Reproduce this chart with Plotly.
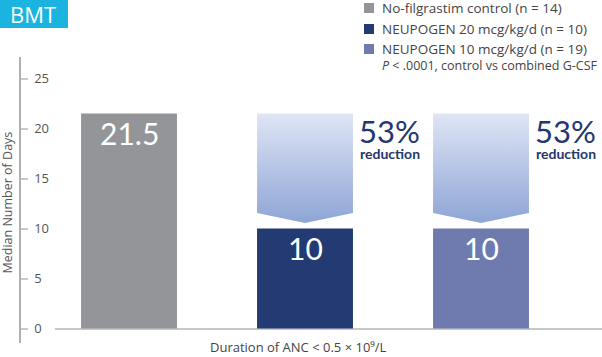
import plotly.graph_objects as go

# ---- data ----
categories = ["No-filgrastim control", "NEUPOGEN 20 mcg/kg/d", "NEUPOGEN 10 mcg/kg/d"]
n_values = [14, 10, 19]
median_days = [21.5, 10, 10]
bar_labels = ["21.5", "10", "10"]
bar_colors = ["#939598", "#233a72", "#6f7aaf"]
y_ticks = [0, 5, 10, 15, 20, 25]
legend_labels = [f"{c} (n = {n})" for c, n in zip(categories, n_values)]
p_note = "<i>P</i> < .0001, control vs combined G-CSF"
x_title = "Duration of ANC < 0.5 × 10⁹/L"
y_title = "Median Number of Days"
panel_title = "BMT"

FONT = "Lato"
SFONT = "Open Sans"
NAVY = "#23366f"
W, H = 602, 357
T, B = 57, 14
PH = H - T - B
BAR_W = 0.545

xs = list(range(len(categories)))

fig = go.Figure()

fig.add_trace(go.Bar(
    x=xs, y=median_days, width=BAR_W, marker=dict(color=bar_colors, line=dict(width=0)),
    hoverinfo="skip", showlegend=False,
))

control = median_days[0]
for i in range(1, len(categories)):
    v = median_days[i]
    c = xs[i]
    top, shoulder, tip = control, v + 1.55, v + 0.55
    fig.add_trace(go.Scatter(
        x=[c - BAR_W / 2, c + BAR_W / 2, c + BAR_W / 2, c, c - BAR_W / 2, c - BAR_W / 2],
        y=[top, top, shoulder, tip, shoulder, top],
        mode="lines", line=dict(width=0), fill="toself",
        fillgradient=dict(type="vertical", colorscale=[[0, "#8ea5d6"], [1, "#dfe5f5"]]),
        hoverinfo="skip", showlegend=False,
    ))
    pct = round((control - v) / control * 100 - 0.01)
    fig.add_annotation(x=c + BAR_W / 2, y=top, xshift=4, yshift=4, xanchor="left", yanchor="top",
                       text=f"{int(pct)}%", showarrow=False,
                       font=dict(family=FONT, size=31, color=NAVY))
    fig.add_annotation(x=c + BAR_W / 2, y=top, xshift=5, yshift=-29, xanchor="left", yanchor="top",
                       text="<b>reduction</b>", showarrow=False,
                       font=dict(family=FONT, size=14, color=NAVY))

for i, lab in enumerate(bar_labels):
    fig.add_annotation(x=xs[i], y=median_days[i], yanchor="top", yshift=1, text=lab,
                       showarrow=False, font=dict(family=FONT, size=30, color="white"))

# legend (drawn manually)
rows_y = [8, 29, 49]
for i, lab in enumerate(legend_labels):
    py = rows_y[i]
    fig.add_shape(type="rect", xref="paper", yref="paper",
                  x0=364 / W, x1=374 / W, y0=(H - B - (py - 5)) / PH, y1=(H - B - (py + 5)) / PH,
                  fillcolor=bar_colors[i], line=dict(width=0))
    fig.add_annotation(xref="paper", yref="paper", x=380 / W, y=(H - B - py) / PH,
                       xanchor="left", yanchor="middle", text=lab, showarrow=False,
                       font=dict(family=SFONT, size=13.5, color="#444"))
fig.add_annotation(xref="paper", yref="paper", x=380 / W, y=(H - B - 65) / PH,
                   xanchor="left", yanchor="middle", text=p_note, showarrow=False,
                   font=dict(family=SFONT, size=12.5, color="#444"))

# BMT badge
fig.add_shape(type="rect", xref="paper", yref="paper", x0=0, x1=68 / W,
              y0=(H - B - 28) / PH, y1=(H - B) / PH, fillcolor="#1bb4e0", line=dict(width=0))
fig.add_annotation(xref="paper", yref="paper", x=33 / W, y=(H - B - 14) / PH,
                   xanchor="center", yanchor="middle", text=panel_title, showarrow=False,
                   font=dict(family=SFONT, size=22, color="white"))

# axis titles
fig.add_annotation(xref="paper", yref="paper", x=7.5 / W, y=(H - B - 203) / PH,
                   xanchor="center", yanchor="middle", textangle=-90, text=y_title,
                   showarrow=False, font=dict(family=SFONT, size=12.5, color="#555"))
fig.add_annotation(xref="paper", yref="paper", x=298 / W, y=(H - B - 347) / PH,
                   xanchor="center", yanchor="middle", text=x_title,
                   showarrow=False, font=dict(family=SFONT, size=13, color="#444"))

r0 = -0.4205
fig.update_layout(
    width=W, height=H, margin=dict(l=0, r=0, t=T, b=B),
    paper_bgcolor="white", plot_bgcolor="white",
    xaxis=dict(domain=[55 / W, 1], range=[r0, r0 + 547 / 176], showticklabels=False,
               showgrid=False, zeroline=False, showline=False, ticks=""),
    yaxis=dict(anchor="free", position=20 / W, range=[-1.45, 27.15],
               tickvals=y_ticks, ticks="inside", ticklen=7, tickcolor="#c8c8c8", tickwidth=1.5,
               ticklabelposition="inside", ticklabelstandoff=6,
               tickfont=dict(family=SFONT, size=13, color="#555"),
               showline=True, linecolor="#b0b0b0", linewidth=1.5, showgrid=False,
               zeroline=True, zerolinecolor="#c8c8c8", zerolinewidth=2),
    font=dict(family=FONT),
)

fig.write_html("out.html", config={"displayModeBar": False},
               post_script="document.body.style.margin='0';document.body.style.overflow='hidden';")
